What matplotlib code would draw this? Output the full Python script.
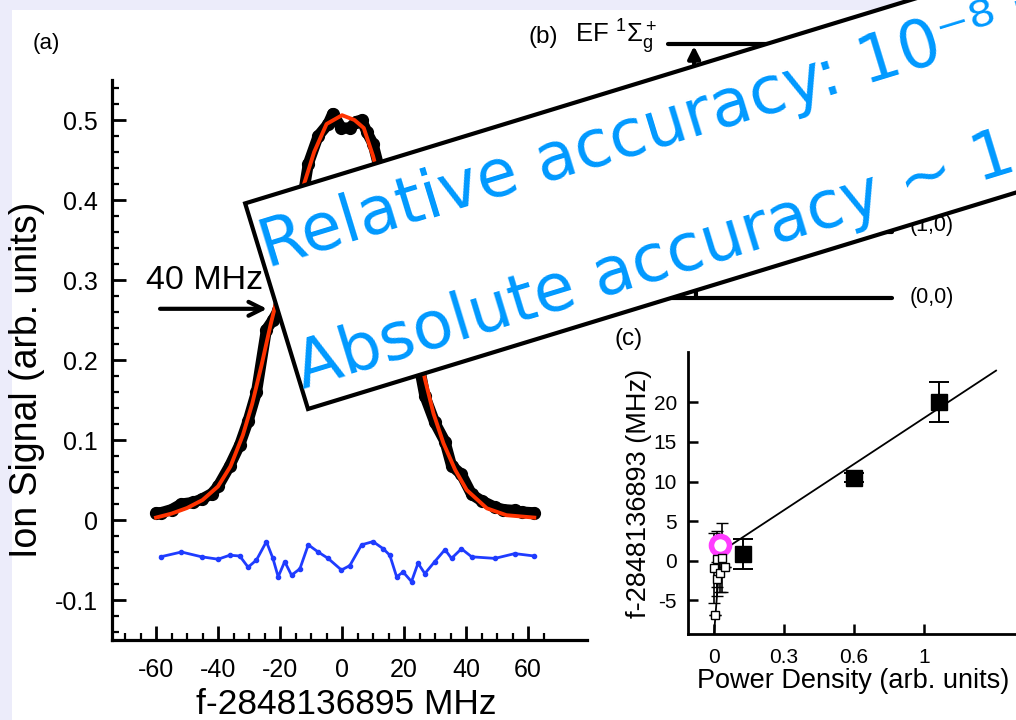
import numpy as np
import matplotlib
matplotlib.use('Agg')
import matplotlib.pyplot as plt
from matplotlib.patches import Rectangle
from matplotlib.ticker import MultipleLocator, FixedLocator, FuncFormatter

# (a) two-photon line scan: measured points, fit and residual (offset below)
scan_x = [-60, -58.5, -55, -51.8, -48, -45.3, -42, -40, -36.2, -33, -30.3, -27.6,
          -24.4, -22.3, -20.6, -18.5, -16.3, -13.6, -10.9, -7.7, -4.5, -3, -0.2,
          2.5, 4.5, 6.3, 8, 10, 13.3, 15.4, 17.6, 19.7, 22.4, 24.5, 26.7, 29.9,
          33.2, 35.3, 38.5, 41.8, 45, 49.3, 52, 55.7, 58, 62]
scan_y = [0.009, 0.009, 0.013, 0.020, 0.022, 0.026, 0.033, 0.042, 0.068, 0.094,
          0.124, 0.160, 0.238, 0.250, 0.262, 0.315, 0.330, 0.380, 0.445, 0.480,
          0.495, 0.508, 0.490, 0.490, 0.498, 0.500, 0.485, 0.470, 0.420, 0.370,
          0.300, 0.270, 0.210, 0.200, 0.155, 0.122, 0.098, 0.068, 0.057, 0.032,
          0.024, 0.016, 0.013, 0.012, 0.010, 0.009]

fit_x = [-60, -55, -50, -45, -40, -36, -32, -29, -26, -23, -20, -16, -12.5, -9,
         -5, 0, 4, 7, 10, 13, 17, 20, 23, 26.8, 29.5, 32.7, 36.5, 40.2, 46.7,
         53, 62]
fit_y = [0.003, 0.008, 0.015, 0.025, 0.042, 0.067, 0.106, 0.145, 0.193, 0.245,
         0.292, 0.355, 0.417, 0.460, 0.495, 0.506, 0.500, 0.490, 0.455, 0.410,
         0.340, 0.290, 0.240, 0.175, 0.133, 0.096, 0.0625, 0.0375, 0.0146,
         0.006, 0.003]

res_x = [-58.5, -51.8, -45.3, -40, -36.2, -33, -30.3, -27.6, -24.4, -22.3, -20.6,
         -18.5, -16.3, -13.6, -10.9, -7.7, -4.5, -0.2, 2.5, 6.3, 10, 13.3, 15.4,
         17.6, 19.7, 22.4, 24.5, 26.7, 29.9, 33.2, 35.3, 38.5, 41.8, 49.3, 55.7, 62]
res_y = [-0.046, -0.040, -0.046, -0.049, -0.044, -0.045, -0.059, -0.050, -0.027,
         -0.048, -0.071, -0.052, -0.069, -0.061, -0.031, -0.040, -0.048, -0.0625,
         -0.057, -0.031, -0.027, -0.036, -0.044, -0.071, -0.065, -0.077, -0.054,
         -0.067, -0.052, -0.037, -0.048, -0.036, -0.046, -0.048, -0.042, -0.045]

# (c) line position vs. power density
big_x = [0.137, 0.668, 1.071]
big_y = [0.85, 10.5, 20.0]
big_err = [1.95, 0.6, 2.5]
small_x = [0.002, 0.005, 0.012, 0.016, 0.029, 0.040, 0.052]
small_y = [-0.9, -6.9, 0.2, -2.3, -1.5, 0.4, -0.8]
small_err = [4.4, 0.0, 3.5, 2.2, 2.4, 4.4, 0.0]
extrap_x = [0.029]
extrap_y = [2.0]
line_x = [0.0, 0.03, 1.343]
line_y = [-9.25, 1.1, 24.0]
c_ticks = [0, 1 / 3, 2 / 3, 1]
c_ticklabels = ['0', '0.3', '0.6', '1']

plt.rcParams['font.family'] = ['Liberation Sans', 'DejaVu Sans']
plt.rcParams['axes.unicode_minus'] = False

W, H = 1016, 720
fig = plt.figure(figsize=(W / 100, H / 100), dpi=100)
fig.patch.set_facecolor('#ececfa')
fig.add_artist(Rectangle((12 / W, 0), 1 - 12 / W, 710 / H, transform=fig.transFigure,
                         facecolor='white', edgecolor='none', zorder=-1))

# ---- panel (a)
ax = fig.add_axes([112 / W, 1 - 640 / H, 475 / W, 560 / H])
ax.set_facecolor('none')
ax.set_xlim(-74.2, 79)
ax.set_ylim(-0.15, 0.55)
for s in ['top', 'right']:
    ax.spines[s].set_visible(False)
for s in ['left', 'bottom']:
    ax.spines[s].set_linewidth(2.3)

ax.plot(scan_x, scan_y, color='k', lw=8, solid_capstyle='round', solid_joinstyle='round')
ax.plot(scan_x, scan_y, 'o', color='k', ms=8.5)
ax.plot(fit_x, fit_y, color='#ff3300', lw=2.8)
ax.plot(res_x, res_y, '-o', color='#1f3cff', lw=2.0, ms=3)

ax.set_xticks(np.arange(-60, 61, 20))
ax.xaxis.set_minor_locator(FixedLocator(np.arange(-70, 66, 5)))
ax.set_yticks(np.arange(-0.1, 0.51, 0.1))
ax.yaxis.set_minor_locator(MultipleLocator(0.02))
ax.yaxis.set_major_formatter(FuncFormatter(lambda v, _: '0' if abs(v) < 1e-9 else f'{v:.1f}'))
ax.tick_params(which='major', direction='in', length=10, width=2, labelsize=18)
ax.tick_params(which='minor', direction='in', length=5, width=1.6)
ax.tick_params(axis='x', which='major', pad=13)
ax.tick_params(axis='y', which='major', pad=10)

ax.set_xlabel('f-2848136895 MHz', fontsize=25.5)
ax.xaxis.set_label_coords(0.493, -0.085)
ax.set_ylabel('Ion Signal (arb. units)', fontsize=27)
ax.yaxis.set_label_coords(-0.14, 0.464)

ax.text(-63.2, 0.289, '40 MHz', fontsize=24.5, va='baseline')
ax.annotate('', xy=(-24.2, 0.264), xytext=(-58.7, 0.264),
            arrowprops=dict(arrowstyle='->', lw=3, color='k', mutation_scale=25,
                            shrinkA=0, shrinkB=0))

# ---- panel (c)
axc = fig.add_axes([688 / W, 1 - 634 / H, 328 / W, 282 / H])
axc.set_facecolor('none')
axc.set_xlim(-0.124, 1.438)
axc.set_ylim(-9.25, 26.35)
for s in ['top', 'right']:
    axc.spines[s].set_visible(False)
for s in ['left', 'bottom']:
    axc.spines[s].set_linewidth(2.0)

axc.plot(line_x, line_y, color='k', lw=1.3)
axc.errorbar(small_x, small_y, yerr=small_err, fmt='s', ms=6, mfc='white', mec='k',
             mew=1, ecolor='k', elinewidth=1.2, capsize=4, capthick=1.2)
axc.errorbar(big_x, big_y, yerr=big_err, fmt='s', ms=11, color='k',
             ecolor='k', elinewidth=1.4, capsize=7, capthick=1.4)
axc.plot(extrap_x, extrap_y, 'o', ms=13, mfc='white', mec='#ff3cff', mew=4)

axc.set_xticks(c_ticks)
axc.set_xticklabels(c_ticklabels)
axc.set_yticks([-5, 0, 5, 10, 15, 20])
axc.tick_params(direction='in', length=7, width=1.8, labelsize=15)
axc.tick_params(axis='x', pad=10)
axc.tick_params(axis='y', pad=8)
axc.set_xlabel('Power Density (arb. units)', fontsize=19.5)
axc.xaxis.set_label_coords(0.503, -0.12)
axc.set_ylabel('f-2848136893 (MHz)', fontsize=19.5)
axc.yaxis.set_label_coords(-0.11, 0.5)

# ---- overlay in pixel units: panel labels, level scheme (b), callout box
ov = fig.add_axes([0, 0, 1, 1], zorder=5)
ov.set_axis_off()
ov.patch.set_visible(False)
ov.set_xlim(0, W)
ov.set_ylim(0, H)

ov.text(33, 671, '(a)', fontsize=16, va='baseline')
ov.text(528, 677, '(b)', fontsize=17.5, va='baseline')
ov.text(575, 677, r'EF $\mathregular{{}^1\Sigma_g^+}$', fontsize=18.5, va='baseline')
ov.text(615, 375, '(c)', fontsize=17.5, va='baseline')

for yl in [675.7, 488, 422.3]:
    ov.plot([668, 892], [yl, yl], color='k', lw=3, solid_capstyle='round', zorder=1)
ov.text(910, 494, '(1,0)', fontsize=15.5, va='center', zorder=1)
ov.text(910, 422, '(0,0)', fontsize=15.5, va='center', zorder=1)
ov.annotate('', xy=(694, 674), xytext=(696, 422),
            arrowprops=dict(arrowstyle='-|>', lw=3, color='k', mutation_scale=18,
                            shrinkA=0, shrinkB=0), zorder=1)

ov.add_patch(Rectangle((308, 311), 1300, 215, angle=17, facecolor='white',
                       edgecolor='k', lw=3, zorder=5))
ov.text(267.0, 452.1, 'Relative accuracy: 10\u207b\u2078 for', fontsize=47.6,
        family='DejaVu Sans', color='#0099ff', rotation=17, rotation_mode='anchor',
        ha='left', va='baseline', zorder=6)
ov.text(303.0, 330.9, 'Absolute accuracy ~ 1 MHz', fontsize=47.6,
        family='DejaVu Sans', color='#0099ff', rotation=17, rotation_mode='anchor',
        ha='left', va='baseline', zorder=6)

fig.savefig('out.png', dpi=100, facecolor=fig.get_facecolor())
